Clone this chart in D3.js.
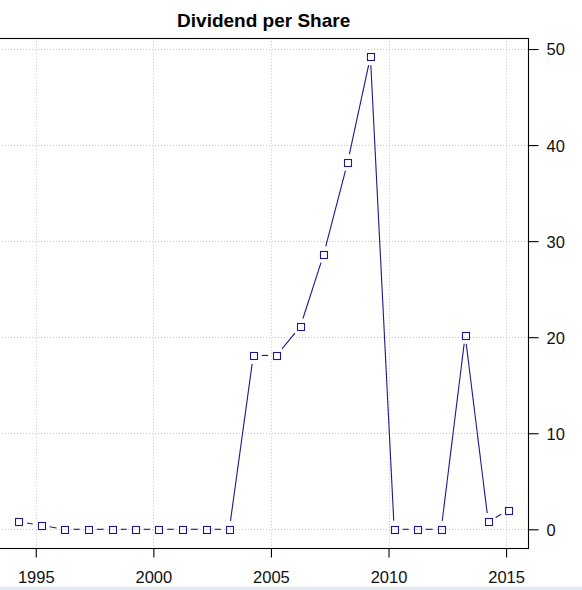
<!DOCTYPE html>
<html>
<head>
<meta charset="utf-8">
<script src="https://cdn.jsdelivr.net/npm/d3@7"></script>
<style>
  html, body { margin: 0; padding: 0; background: #ffffff; }
  svg { display: block; }
</style>
</head>
<body>
<svg id="chart" width="582" height="590"></svg>
<script>
// ---- data ----
const title = "Dividend per Share";
const years = [1994.27, 1995.23, 1996.24, 1997.23, 1998.25, 1999.23, 2000.23, 2001.23,
               2002.25, 2003.23, 2004.25, 2005.24, 2006.25, 2007.24, 2008.26, 2009.23,
               2010.24, 2011.22, 2012.24, 2013.26, 2014.24, 2015.11];
const dividends = [0.8, 0.4, 0, 0, 0, 0, 0, 0,
                   0, 0, 18.1, 18.1, 21.1, 28.6, 38.2, 49.2,
                   0, 0, 0, 20.2, 0.8, 2.0];
const xTicks = [1995, 2000, 2005, 2010, 2015];
const yTicks = [0, 10, 20, 30, 40, 50];

// ---- layout ----
const svg = d3.select("#chart");
const W = 582, H = 590;
const box = { left: -1, right: 528.3, top: 37.8, bottom: 548.2 };
const col = "#1a1a8c";
const font = "'Liberation Sans', Arial, sans-serif";

svg.append("rect").attr("x", 0).attr("y", 0).attr("width", W).attr("height", H).attr("fill", "#fff");

// R-style 4% padded domains
function padExtent(arr) {
  const [a, b] = d3.extent(arr);
  const p = (b - a) * 0.04;
  return [a - p, b + p];
}
const x = d3.scaleLinear().domain(padExtent(years)).range([box.left, box.right]);
const y = d3.scaleLinear().domain(padExtent(dividends)).range([box.bottom, box.top]);

// grid
const grid = svg.append("g").attr("stroke", "#c8c8c8").attr("stroke-width", 1).attr("stroke-dasharray", "1,2");
xTicks.forEach(t => {
  grid.append("line").attr("x1", Math.round(x(t)) + 0.5).attr("x2", Math.round(x(t)) + 0.5)
    .attr("y1", box.top).attr("y2", box.bottom);
});
yTicks.forEach(t => {
  grid.append("line").attr("y1", Math.round(y(t)) + 0.5).attr("y2", Math.round(y(t)) + 0.5)
    .attr("x1", box.left).attr("x2", box.right);
});

// series: lines with gaps (type "b") and square points
const pts = years.map((yr, i) => [x(yr), y(dividends[i])]);
const gap = 8.5;
const lines = svg.append("g").attr("stroke", col).attr("stroke-width", 1.1).attr("fill", "none");
for (let i = 0; i < pts.length - 1; i++) {
  const [x1, y1] = pts[i], [x2, y2] = pts[i + 1];
  const dx = x2 - x1, dy = y2 - y1, d = Math.hypot(dx, dy);
  if (d <= 2 * gap) continue;
  const ux = dx / d, uy = dy / d;
  lines.append("line")
    .attr("x1", x1 + ux * gap).attr("y1", y1 + uy * gap)
    .attr("x2", x2 - ux * gap).attr("y2", y2 - uy * gap);
}
svg.append("g").selectAll("rect").data(pts).join("rect")
  .attr("x", d => Math.round(d[0] - 3.5) + 0.5)
  .attr("y", d => Math.round(d[1] - 3.5) + 0.5)
  .attr("width", 7).attr("height", 7)
  .attr("fill", "none").attr("stroke", col).attr("stroke-width", 1.1);

// box
svg.append("rect")
  .attr("x", box.left).attr("y", Math.round(box.top) + 0.5)
  .attr("width", Math.round(box.right) - box.left + 0.5)
  .attr("height", Math.round(box.bottom) - Math.round(box.top))
  .attr("fill", "none").attr("stroke", "#000").attr("stroke-width", 1.1);

// bottom axis
const xAxisG = svg.append("g")
  .attr("transform", `translate(0,${Math.round(box.bottom) + 0.5})`)
  .call(d3.axisBottom(x).tickValues(xTicks).tickFormat(d3.format("d")).tickSize(9).tickPadding(5));
xAxisG.select(".domain").remove();
xAxisG.selectAll(".tick line").attr("stroke", "#000").attr("stroke-width", 1.1);
xAxisG.selectAll(".tick text").attr("font-family", font).attr("font-size", "16.5px").attr("fill", "#111")
  .attr("dy", null).attr("y", 34);

// right axis
const yAxisG = svg.append("g")
  .attr("transform", `translate(${Math.round(box.right) + 0.5},0)`)
  .call(d3.axisRight(y).tickValues(yTicks).tickFormat(d3.format("d")).tickSize(10).tickPadding(8));
yAxisG.select(".domain").remove();
yAxisG.selectAll(".tick line").attr("stroke", "#000").attr("stroke-width", 1.1);
yAxisG.selectAll(".tick text").attr("font-family", font).attr("font-size", "16.5px").attr("fill", "#111")
  .attr("dy", "0.36em");

// title
svg.append("text")
  .attr("x", (box.left + box.right) / 2).attr("y", 27)
  .attr("text-anchor", "middle")
  .attr("font-family", font).attr("font-weight", "bold").attr("font-size", "19px")
  .attr("fill", "#000")
  .text(title);

// bottom window strip
svg.append("rect").attr("x", 0).attr("y", 586.5).attr("width", W).attr("height", 4).attr("fill", "#e3eaf2");
</script>
</body>
</html>
